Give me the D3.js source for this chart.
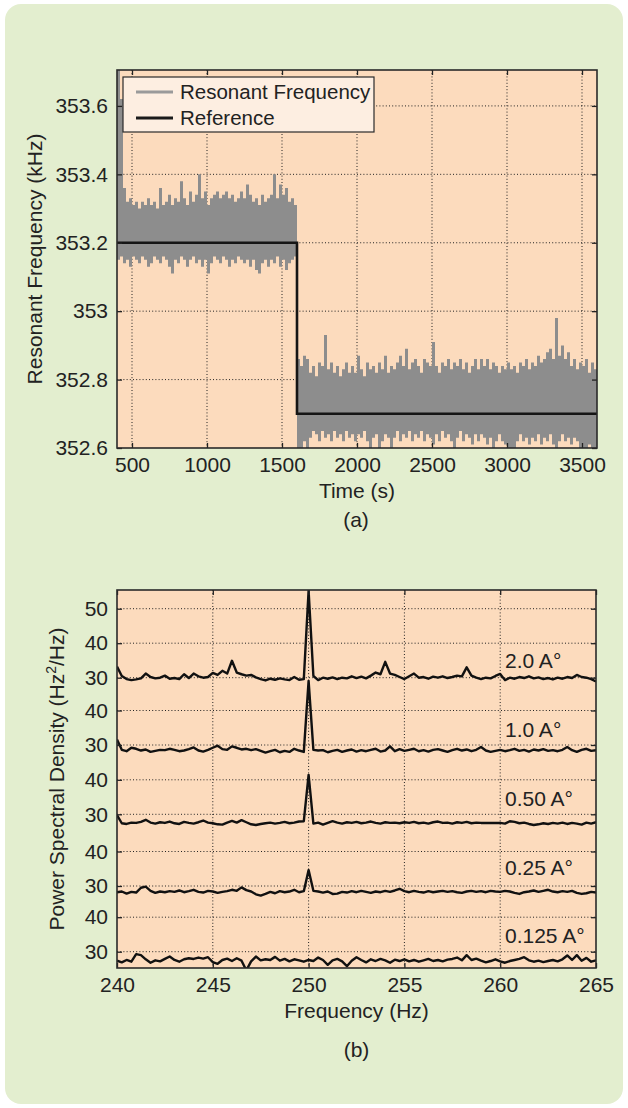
<!DOCTYPE html>
<html>
<head>
<meta charset="utf-8">
<title>Resonant frequency tracking and PSD</title>
<script src="https://cdn.jsdelivr.net/npm/d3@7/dist/d3.min.js"></script>
<style>
  body { margin: 0; background: #fff; }
  svg text { font-family: "Liberation Sans", Arial, Helvetica, sans-serif; fill: #222; }
</style>
</head>
<body>
<script>
// ---- data (a): resonant frequency, envelope of the dense trace, one value every 20 s from 400 s
const timeStart = 400, timeStep = 20;
const freqHi = [
  353.71,353.62,353.36,353.32,353.33,353.31,353.32,353.30,353.32,353.31,
  353.33,353.31,353.32,353.30,353.36,353.31,353.32,353.34,353.31,353.33,
  353.32,353.38,353.33,353.31,353.35,353.32,353.34,353.40,353.33,353.35,
  353.31,353.33,353.34,353.35,353.33,353.34,353.35,353.33,353.34,353.32,
  353.33,353.35,353.33,353.37,353.34,353.32,353.33,353.31,353.34,353.32,
  353.33,353.34,353.40,353.33,353.37,353.34,353.36,353.32,353.33,353.31,
  352.86,352.84,352.87,352.86,352.82,352.84,352.81,352.85,352.84,352.93,
  352.83,352.85,352.82,352.84,352.81,352.83,352.85,352.82,352.84,352.82,
  352.87,352.83,352.81,352.85,352.83,352.84,352.82,352.85,352.83,352.87,
  352.82,352.84,352.83,352.85,352.87,352.84,352.89,352.83,352.85,352.86,
  352.84,352.82,352.86,352.85,352.84,352.91,352.84,352.82,352.85,352.84,
  352.86,352.83,352.85,352.84,352.86,352.83,352.85,352.82,352.84,352.86,
  352.83,352.86,352.84,352.86,352.83,352.85,352.84,352.82,352.84,352.83,
  352.85,352.83,352.84,352.82,352.85,352.84,352.86,352.83,352.85,352.84,
  352.87,352.85,352.86,352.88,352.89,352.86,352.98,352.87,352.90,352.86,
  352.88,352.84,352.86,352.83,352.85,352.84,352.86,352.82,352.85,352.83
];
const freqLo = [
  353.15,353.16,353.14,353.15,353.13,353.16,353.15,353.14,353.16,353.15,
  353.13,353.14,353.16,353.15,353.14,353.16,353.15,353.13,353.11,353.15,
  353.14,353.16,353.15,353.13,353.15,353.16,353.14,353.15,353.13,353.15,
  353.11,353.14,353.16,353.15,353.14,353.16,353.15,353.13,353.15,353.14,
  353.16,353.15,353.14,353.15,353.13,353.15,353.12,353.11,353.14,353.15,
  353.13,353.15,353.14,353.16,353.13,353.15,353.12,353.14,353.15,353.16,
  352.60,352.59,352.62,352.59,352.63,352.65,352.64,352.62,352.65,352.63,
  352.64,352.62,352.65,352.63,352.64,352.62,352.65,352.63,352.64,352.62,
  352.64,352.63,352.65,352.62,352.59,352.63,352.64,352.60,352.62,352.64,
  352.63,352.59,352.63,352.65,352.62,352.64,352.63,352.65,352.62,352.64,
  352.63,352.65,352.62,352.64,352.63,352.61,352.64,352.62,352.65,352.63,
  352.64,352.62,352.59,352.63,352.65,352.62,352.64,352.63,352.61,352.64,
  352.62,352.64,352.63,352.61,352.63,352.59,352.62,352.64,352.62,352.61,
  352.59,352.60,352.59,352.62,352.64,352.62,352.63,352.61,352.63,352.62,
  352.64,352.61,352.63,352.62,352.64,352.61,352.59,352.62,352.64,352.62,
  352.63,352.61,352.63,352.62,352.59,352.60,352.59,352.61,352.59,352.60
];
const refTime = [400, 1600, 1600, 3600];
const refFreq = [353.2, 353.2, 352.7, 352.7];
const timeTicks = [500, 1000, 1500, 2000, 2500, 3000, 3500];
const freqTicks = [352.6, 352.8, 353, 353.2, 353.4, 353.6];

// ---- data (b): PSD traces, one value every 0.25 Hz from 240 Hz
const psdStart = 240, psdStep = 0.25;
const psdLabels = ["2.0 A°", "1.0 A°", "0.50 A°", "0.25 A°", "0.125 A°"];
const psd20 = [33.2,30.5,29.6,29.3,29.5,29.8,31.2,30.2,29.8,30.0,30.6,29.7,29.9,29.6,31.0,29.9,31.2,30.4,30.0,30.2,
  31.4,30.8,32.0,31.2,34.9,31.5,31.0,30.6,30.8,30.1,29.6,29.2,29.7,29.4,29.8,29.5,29.3,30.2,29.4,29.6,
  55.2,30.5,29.3,30.0,29.7,30.1,29.6,30.0,29.8,30.4,29.9,30.3,29.8,30.6,31.5,31.0,34.6,31.2,30.8,30.2,
  29.6,30.4,31.2,30.0,30.2,29.7,30.3,30.0,30.4,29.9,30.2,30.6,30.4,33.0,30.6,30.0,29.6,30.0,29.8,30.5,
  31.1,29.3,30.0,29.7,30.2,29.9,30.4,29.8,30.1,29.6,29.9,29.5,30.0,29.7,30.2,29.9,30.8,30.2,30.0,29.6,28.9];
const psd10 = [31.6,28.6,28.2,29.2,28.9,28.4,28.7,28.0,28.3,28.6,28.5,28.9,28.6,28.2,28.4,28.8,29.3,28.4,28.1,28.6,
  29.2,29.8,28.8,28.6,29.6,29.2,28.7,28.9,28.5,28.8,28.3,27.8,28.2,28.6,27.9,28.3,28.0,28.9,28.4,28.0,
  48.6,28.6,28.4,28.5,27.9,28.3,28.6,28.0,28.4,28.7,28.1,28.5,28.2,28.6,28.9,28.1,28.4,29.6,28.2,28.8,
  28.3,28.6,28.9,28.2,28.5,28.1,28.6,28.8,28.4,28.0,28.5,28.9,28.4,28.7,28.2,28.6,29.4,28.4,28.0,28.3,
  28.6,28.2,28.5,28.9,28.3,28.6,28.1,28.7,28.4,28.8,28.3,28.5,28.2,28.6,29.4,28.5,28.0,28.6,28.9,28.3,28.5];
const psd05 = [29.8,27.4,27.2,27.6,27.5,27.8,28.4,27.6,27.3,27.7,27.5,27.9,27.4,27.2,27.8,27.5,27.3,27.7,28.2,27.6,
  27.4,27.1,27.0,27.6,28.1,27.6,28.3,27.7,27.1,26.9,27.2,27.4,27.6,27.3,27.5,27.8,27.4,27.6,27.9,28.0,
  41.4,27.3,27.6,27.0,27.5,28.0,27.6,27.3,27.7,27.5,27.8,27.4,27.6,27.9,27.5,27.3,27.7,27.5,27.6,27.4,
  27.7,27.5,27.8,27.4,27.6,27.3,27.7,27.9,27.5,27.6,27.3,27.7,27.5,27.8,27.4,27.6,27.5,27.5,27.5,27.5,
  27.5,27.3,28.0,27.8,27.4,27.6,27.2,26.9,27.1,27.4,27.2,27.5,27.3,27.6,27.2,27.5,27.3,27.0,27.6,27.3,27.7];
const psd025 = [28.2,28.4,27.8,28.3,28.1,29.5,29.8,28.6,28.0,28.4,28.2,28.5,28.3,28.7,28.2,28.5,28.9,28.3,28.1,28.6,
  28.4,28.0,28.3,28.5,28.9,28.6,29.6,28.8,28.4,27.6,27.2,27.7,28.3,27.9,28.5,28.2,28.4,28.9,28.2,28.5,
  34.6,28.6,28.4,28.1,28.4,27.7,27.8,28.3,28.1,28.5,28.2,28.6,28.3,28.0,28.4,28.2,28.6,28.3,28.7,29.2,
  28.5,28.2,28.6,28.3,28.1,28.5,28.2,28.4,28.6,28.3,28.5,28.2,28.0,28.4,28.6,28.3,28.5,28.2,28.6,28.4,
  28.3,28.6,28.4,28.0,27.7,28.2,28.4,28.7,28.3,28.6,28.9,28.4,28.2,28.5,28.3,28.6,28.0,27.7,27.9,28.3,28.1];
const psd0125 = [27.4,26.9,27.6,27.1,29.3,29.0,27.8,26.8,27.5,27.2,27.9,28.6,27.6,27.1,27.8,28.1,27.9,28.3,28.0,28.4,
  27.0,26.5,27.6,28.0,27.3,28.1,27.4,24.6,27.2,28.6,27.5,27.8,27.6,28.5,27.4,27.9,27.2,27.8,27.5,27.1,
  27.6,27.3,28.3,27.6,26.2,27.5,27.9,27.2,25.8,27.4,28.4,27.6,26.9,27.8,27.3,27.9,27.5,26.8,27.7,27.3,
  27.8,27.2,27.6,27.1,27.5,27.9,27.3,27.6,27.2,27.7,27.9,28.3,27.5,29.0,27.6,28.0,27.4,26.9,27.3,27.8,
  27.2,26.8,27.3,27.6,27.9,28.4,27.5,27.1,27.4,27.0,27.3,27.6,27.2,27.8,28.9,27.6,29.0,27.4,28.2,27.1,27.5];
const psdSeries = [psd20, psd10, psd05, psd025, psd0125];
const psdTicks = [[30, 40, 50], [30, 40], [30, 40], [30, 40], [30, 40]];
const hzTicks = [240, 245, 250, 255, 260, 265];

// ---- layout
const W = 628, H = 1108;
const FS = 21;
const A = {left: 117, right: 597, top: 70, bottom: 448};
const B = {left: 117, right: 596, top: 590, bottom: 968};
const bandY30 = [677.7, 745, 814.3, 886, 951.7];  // pixel row of the "30" tick of each stacked axis
const px10 = 34.5;                                   // pixels per 10 units in every stacked axis

const svg = d3.select("body").append("svg").attr("width", W).attr("height", H);
svg.append("rect").attr("x", 5).attr("y", 4).attr("width", 618).attr("height", 1100)
  .attr("rx", 16).attr("fill", "#e3eecf");

const defs = svg.append("defs");
function clip(id, p) {
  defs.append("clipPath").attr("id", id).append("rect")
    .attr("x", p.left).attr("y", p.top).attr("width", p.right - p.left).attr("height", p.bottom - p.top);
}
clip("clipA", A); clip("clipB", B);

function dotted(g, x1, y1, x2, y2) {
  g.append("line").attr("x1", x1).attr("y1", y1).attr("x2", x2).attr("y2", y2)
    .attr("stroke", "#222").attr("stroke-width", 1).attr("stroke-dasharray", "1,2.2");
}
function tidy(g) {
  g.select(".domain").remove();
  g.selectAll(".tick line").attr("stroke", "#222").attr("stroke-width", 1.3);
  g.selectAll(".tick text").attr("font-size", FS).attr("fill", "#222");
}
const plain = d => String(d);

// ================= chart (a)
const x = d3.scaleLinear().domain([400, 3600]).range([A.left, A.right]);
const y = d3.scaleLinear().domain([352.6, 353.705]).range([A.bottom, A.top]);

const ga = svg.append("g");
ga.append("rect").attr("x", A.left).attr("y", A.top).attr("width", A.right - A.left)
  .attr("height", A.bottom - A.top).attr("fill", "#fcdbbd");

timeTicks.forEach(t => dotted(ga, x(t), A.top, x(t), A.bottom));
freqTicks.slice(1).forEach(f => dotted(ga, A.left, y(f), A.right, y(f)));

const noise = freqHi.map((h, i) => ({t: timeStart + i * timeStep, hi: h, lo: freqLo[i]}));
noise.push({t: 3600, hi: freqHi[freqHi.length - 1], lo: freqLo[freqLo.length - 1]});
ga.append("path").datum(noise).attr("clip-path", "url(#clipA)")
  .attr("fill", "#8d8d8d")
  .attr("d", d3.area().curve(d3.curveStepAfter).x(d => x(d.t)).y0(d => y(d.lo)).y1(d => y(d.hi)));

ga.append("path").datum(refTime.map((t, i) => [t, refFreq[i]])).attr("clip-path", "url(#clipA)")
  .attr("fill", "none").attr("stroke", "#151515").attr("stroke-width", 2.6)
  .attr("d", d3.line().x(d => x(d[0])).y(d => y(d[1])));

ga.append("g").attr("transform", `translate(0,${A.bottom})`)
  .call(d3.axisBottom(x).tickValues(timeTicks).tickSize(-5).tickPadding(9).tickFormat(plain)).call(tidy);
ga.append("g").attr("transform", `translate(0,${A.top})`)
  .call(d3.axisTop(x).tickValues(timeTicks).tickSize(-5).tickFormat("")).call(tidy);
ga.append("g").attr("transform", `translate(${A.left},0)`)
  .call(d3.axisLeft(y).tickValues(freqTicks).tickSize(-5).tickPadding(9).tickFormat(plain)).call(tidy);
ga.append("g").attr("transform", `translate(${A.right},0)`)
  .call(d3.axisRight(y).tickValues(freqTicks).tickSize(-5).tickFormat("")).call(tidy);

ga.append("rect").attr("x", A.left).attr("y", A.top).attr("width", A.right - A.left)
  .attr("height", A.bottom - A.top).attr("fill", "none").attr("stroke", "#2a2a2a").attr("stroke-width", 1.6);

// legend
const lg = ga.append("g");
lg.append("rect").attr("x", 123).attr("y", 77).attr("width", 251).attr("height", 55)
  .attr("fill", "#fdeee1").attr("stroke", "#2a2a2a").attr("stroke-width", 1.2);
[["Resonant Frequency", "#9a9a9a", 92], ["Reference", "#1a1a1a", 118]].forEach(([name, c, ly]) => {
  lg.append("line").attr("x1", 136).attr("x2", 173).attr("y1", ly).attr("y2", ly)
    .attr("stroke", c).attr("stroke-width", 3);
  lg.append("text").attr("x", 180).attr("y", ly + 7).attr("font-size", 20.5).text(name);
});

svg.append("text").attr("x", (A.left + A.right) / 2).attr("y", 498).attr("text-anchor", "middle")
  .attr("font-size", FS).text("Time (s)");
svg.append("text").attr("x", (A.left + A.right) / 2 - 1).attr("y", 527).attr("text-anchor", "middle")
  .attr("font-size", FS).text("(a)");
svg.append("text").attr("transform", `translate(42,${(A.top + A.bottom) / 2}) rotate(-90)`)
  .attr("text-anchor", "middle").attr("font-size", FS).text("Resonant Frequency (kHz)");

// ================= chart (b)
const xb = d3.scaleLinear().domain([240, 265]).range([B.left, B.right]);
const bandScales = bandY30.map(y30 => d3.scaleLinear().domain([30, 40]).range([y30, y30 - px10]));

const gb = svg.append("g");
gb.append("rect").attr("x", B.left).attr("y", B.top).attr("width", B.right - B.left)
  .attr("height", B.bottom - B.top).attr("fill", "#fcdbbd");

hzTicks.slice(1, -1).forEach(f => dotted(gb, xb(f), B.top, xb(f), B.bottom));
bandScales.forEach((s, k) => psdTicks[k].forEach(v => dotted(gb, B.left, s(v), B.right, s(v))));

const psdLine = d3.line();
psdSeries.forEach((vals, k) => {
  const s = bandScales[k];
  gb.append("path").datum(vals).attr("clip-path", "url(#clipB)")
    .attr("fill", "none").attr("stroke", "#111").attr("stroke-width", 2.4).attr("stroke-linejoin", "round")
    .attr("d", psdLine.x((d, i) => xb(psdStart + i * psdStep)).y(d => s(d)));
});

gb.append("g").attr("transform", `translate(0,${B.bottom})`)
  .call(d3.axisBottom(xb).tickValues(hzTicks).tickSize(-5).tickPadding(9)).call(tidy);
gb.append("g").attr("transform", `translate(0,${B.top})`)
  .call(d3.axisTop(xb).tickValues(hzTicks).tickSize(-5).tickFormat("")).call(tidy);
bandScales.forEach((s, k) => {
  gb.append("g").attr("transform", `translate(${B.left},0)`)
    .call(d3.axisLeft(s).tickValues(psdTicks[k]).tickSize(-5).tickPadding(9)).call(tidy);
  gb.append("g").attr("transform", `translate(${B.right},0)`)
    .call(d3.axisRight(s).tickValues(psdTicks[k]).tickSize(-5).tickFormat("")).call(tidy);
});

gb.append("rect").attr("x", B.left).attr("y", B.top).attr("width", B.right - B.left)
  .attr("height", B.bottom - B.top).attr("fill", "none").attr("stroke", "#2a2a2a").attr("stroke-width", 1.6);

const labelBase = [668, 737, 806, 875, 943];
psdLabels.forEach((t, k) => {
  gb.append("text").attr("x", 505).attr("y", labelBase[k]).attr("font-size", FS).text(t);
});

svg.append("text").attr("x", (B.left + B.right) / 2).attr("y", 1018).attr("text-anchor", "middle")
  .attr("font-size", FS).text("Frequency (Hz)");
svg.append("text").attr("x", (B.left + B.right) / 2).attr("y", 1057).attr("text-anchor", "middle")
  .attr("font-size", FS).text("(b)");
const yl = svg.append("text").attr("transform", `translate(64,${(B.top + B.bottom) / 2}) rotate(-90)`)
  .attr("text-anchor", "middle").attr("font-size", FS);
yl.append("tspan").text("Power Spectral Density (Hz");
yl.append("tspan").attr("font-size", 14).attr("dy", -8).text("2");
yl.append("tspan").attr("dy", 8).text("/Hz)");
</script>
</body>
</html>
